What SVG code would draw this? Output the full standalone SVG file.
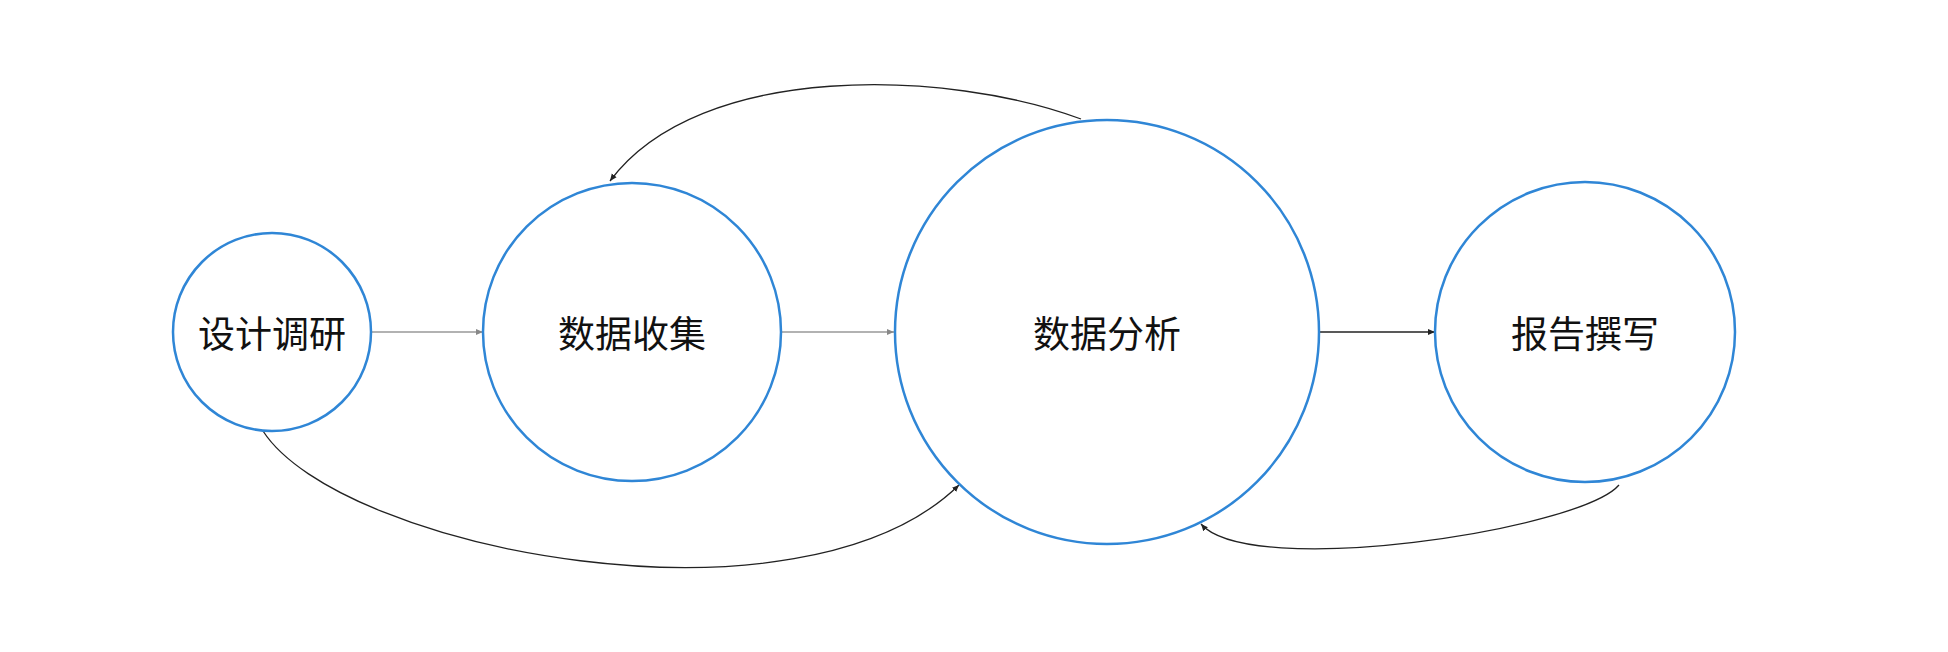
<svg xmlns="http://www.w3.org/2000/svg" width="1948" height="652" viewBox="0 0 1948 652">
<style>
.n{fill:#fff;stroke:#2f86d6;stroke-width:2.5}
.t{font-family:"Noto Sans CJK SC","Noto Sans",sans-serif;font-size:37px;fill:#111;text-anchor:middle;dominant-baseline:central}
.c{fill:none;stroke:#222;stroke-width:1.3}
.g{fill:none;stroke:#999;stroke-width:1.3}
</style>
<defs>
<marker id="a" markerWidth="8" markerHeight="8" refX="7" refY="4" orient="auto" markerUnits="userSpaceOnUse"><path d="M0,1 L7,4 L0,7 z" fill="#222"/></marker>
<marker id="ag" markerWidth="8" markerHeight="8" refX="7" refY="4" orient="auto" markerUnits="userSpaceOnUse"><path d="M0,1 L7,4 L0,7 z" fill="#888"/></marker>
</defs>
<rect width="1948" height="652" fill="#fff"/>
<g id="connectors">
<path class="g" d="M371,332 L483,332" marker-end="url(#ag)"/>
<path class="g" d="M781,332 L894,332" marker-end="url(#ag)"/>
<path class="c" d="M1319,332 L1435,332" marker-end="url(#a)"/>
<path class="c" d="M1081,119 C950,70 700,60 610,181" marker-end="url(#a)"/>
<path class="c" d="M263,431 C340,550 800,640 959,485" marker-end="url(#a)"/>
<path class="c" d="M1619,485 C1580,530 1250,580 1201,524" marker-end="url(#a)"/>
</g>
<g id="n1"><circle class="n" cx="272" cy="332" r="99"/><text class="t" x="272" y="332">设计调研</text></g>
<g id="n2"><circle class="n" cx="632" cy="332" r="149"/><text class="t" x="632" y="332">数据收集</text></g>
<g id="n3"><circle class="n" cx="1107" cy="332" r="212"/><text class="t" x="1107" y="332">数据分析</text></g>
<g id="n4"><circle class="n" cx="1585" cy="332" r="150"/><text class="t" x="1585" y="332">报告撰写</text></g>
</svg>
